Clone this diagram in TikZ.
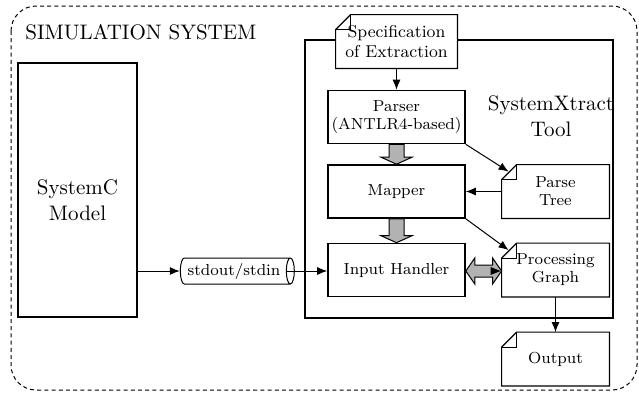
\documentclass[tikz,border=0pt]{standalone}
\usetikzlibrary{shapes.geometric,arrows.meta,calc}
\newcommand\docoutline[1]{%
  \draw[docline] ([xshift=7.5pt]#1.north west) -- (#1.north east) -- (#1.south east) -- (#1.south west) -- ([yshift=-7.5pt]#1.north west) -- cycle;
  \draw[docline] ([xshift=7.5pt]#1.north west) -- ([xshift=7.5pt,yshift=-7.5pt]#1.north west) -- ([yshift=-7.5pt]#1.north west);}
\begin{document}
\begin{tikzpicture}[x=0.5pt,y=-0.5pt,
  big/.style={font=\fontsize{10.5}{13}\selectfont, align=center},
  small/.style={font=\fontsize{8}{9}\selectfont, align=center},
  thickbox/.style={draw, line width=1.4pt},
  procbox/.style={draw, line width=0.8pt, minimum width=68.5pt, minimum height=26.5pt, small, inner sep=1pt},
  docbox/.style={fill=white, minimum width=53.5pt, minimum height=26.5pt, small, inner sep=1pt},
  docline/.style={line width=0.6pt, line join=miter},
  arr/.style={-{Latex[length=5pt,width=4pt]}, line width=0.5pt},
  block/.style={fill=gray!60, draw, line width=0.5pt, line join=miter},
  outer/.style={draw, line width=0.5pt, dash pattern=on 2pt off 1.6pt, rounded corners=12.5pt}]
\useasboundingbox (0,0) rectangle (639,393);
% outer system
\draw[outer] (11,6) rectangle (637,390);
\node[big, anchor=west, inner sep=0pt] (simtitle) at (25,32) {SIMULATION SYSTEM};
% SystemC model
\node[thickbox, minimum width=59.5pt, minimum height=127pt,
      label={[big, yshift=-5pt]center:SystemC\\Model}] (sc) at (77.5,190) {};
% tool box
\node[thickbox, minimum width=154pt, minimum height=139pt] (tool) at (459,179) {};
\node[big] (tooltitle) at (551,116) {SystemXtract\\Tool};
% specification
\node[docbox, minimum width=60.5pt, font=\fontsize{8.6}{9.6}\selectfont] (spec) at (396.5,41.5) {Specification\\of Extraction};
\docoutline{spec}
% processing chain
\node[procbox] (parser) at (396.5,117) {Parser\\(ANTLR4-based)};
\node[procbox] (mapper) at (396.5,191.5) {Mapper};
\node[procbox] (ih) at (396.5,270) {Input Handler};
% documents
\node[docbox] (pt) at (555.5,191.5) {Parse\\Tree};
\docoutline{pt}
\node[docbox] (pg) at (555.5,270) {Processing\\Graph};
\docoutline{pg}
\node[docbox] (out) at (555.5,359) {Output};
\docoutline{out}
% channel
\node[cylinder, draw, line width=0.5pt, small, minimum height=57pt, minimum width=13pt, aspect=0.4, inner sep=1pt] (cyl) at (234,271) {stdout/stdin};
% connectors
\draw[arr] (spec.south) -- (parser.north);
\draw[arr] (parser.south east) -- ([shift={(3.5pt,-3.5pt)}]pt.north west);
\draw[arr] (pt.west) -- (mapper.east);
\draw[arr] (mapper.south east) -- ([shift={(3.5pt,-3.5pt)}]pg.north west);
\draw[arr] (pg.south) -- (out.north);
\draw[arr] (sc.east |- cyl.west) -- (cyl.west);
\draw[arr] ([xshift=-4pt]cyl.east) -- (ih.west |- cyl.east);
% block arrows
\draw[block] ($(parser.south)+(-7.5,0)$) -- ($(mapper.north)+(-7.5,-7)$) -- ($(mapper.north)+(-15.5,-7)$) -- (mapper.north) -- ($(mapper.north)+(15.5,-7)$) -- ($(mapper.north)+(7.5,-7)$) -- ($(parser.south)+(7.5,0)$) -- cycle;
\draw[block] ($(mapper.south)+(-7.5,0)$) -- ($(ih.north)+(-7.5,-7)$) -- ($(ih.north)+(-15.5,-7)$) -- (ih.north) -- ($(ih.north)+(15.5,-7)$) -- ($(ih.north)+(7.5,-7)$) -- ($(mapper.south)+(7.5,0)$) -- cycle;
\draw[block] ($(ih.east)+(0,1)$) -- ($(ih.east)+(9,-12)$) -- ($(ih.east)+(9,-5)$) -- ($(pg.west)+(-9,-5)$) -- ($(pg.west)+(-9,-12)$) -- ($(pg.west)+(0,1)$) -- ($(pg.west)+(-9,14)$) -- ($(pg.west)+(-9,7)$) -- ($(ih.east)+(9,7)$) -- ($(ih.east)+(9,14)$) -- cycle;
\fill ($(pg.west)+(-1,1)$) -- ($(pg.west)+(-11,-3)$) -- ($(pg.west)+(-11,5)$) -- cycle;
\end{tikzpicture}
\end{document}
